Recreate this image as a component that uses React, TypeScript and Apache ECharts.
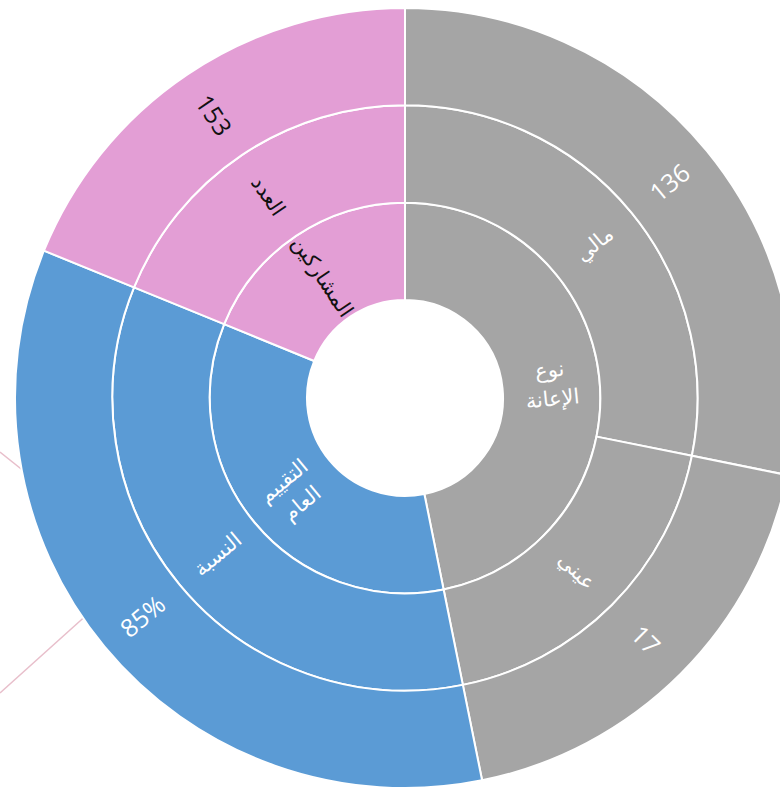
import React, { useEffect, useRef } from "react";
import * as echarts from "echarts";

// Inner ring (categories)
const innerNames = ["نوع\nالإعانة", "التقييم\nالعام", "المشاركين"];
// Middle ring names, per inner category
const middleNames = [["مالي", "عيني"], ["النسبة"], ["العدد"]];
// Outer ring labels, per middle item
const outerLabels = [["136", "17"], ["85%"], ["153"]];
// Angular share of each leaf (degrees)
const leafShares = [[101.4, 67.2], [123.6], [67.8]];
// Colours per inner category
const colors = ["#A5A5A5", "#5B9BD5", "#E39ED5"];
const textColors = ["#ffffff", "#ffffff", "#111111"];

const FONT = "'Open Sans', 'DejaVu Sans', sans-serif";

export default function App() {
  const ref = useRef<HTMLDivElement>(null);

  useEffect(() => {
    if (!ref.current) return;
    const chart = echarts.init(ref.current, undefined, { renderer: "svg" });

    const data = innerNames.map((name, i) => ({
      name,
      itemStyle: { color: colors[i] },
      label: { color: textColors[i], lineHeight: 29 },
      children: middleNames[i].map((mName, j) => ({
        name: mName,
        itemStyle: { color: colors[i] },
        label: { color: textColors[i] },
        children: [
          {
            name: outerLabels[i][j],
            value: leafShares[i][j],
            itemStyle: { color: colors[i] },
            label: { color: textColors[i], fontSize: 25 },
          },
        ],
      })),
    }));

    chart.setOption({
      animation: false,
      backgroundColor: "#ffffff",
      graphic: [
        {
          type: "line",
          z: -10,
          shape: { x1: 0, y1: 452, x2: 60, y2: 500 },
          style: { stroke: "#e8bfcb", lineWidth: 1.5 },
          silent: true,
        },
        {
          type: "line",
          z: -10,
          shape: { x1: 0, y1: 693, x2: 120, y2: 585 },
          style: { stroke: "#e8bfcb", lineWidth: 1.5 },
          silent: true,
        },
      ],
      series: [
        {
          type: "sunburst",
          center: [405, 398],
          radius: [98, 390],
          startAngle: 90,
          clockwise: true,
          sort: null,
          nodeClick: false,
          emphasis: { disabled: true },
          itemStyle: { borderColor: "#ffffff", borderWidth: 2 },
          label: {
            rotate: "radial",
            fontFamily: FONT,
            fontSize: 21,
            lineHeight: 26,
            align: "center",
          },
          data,
        },
      ],
    });

    return () => chart.dispose();
  }, []);

  return (
    <div
      ref={ref}
      style={{ position: "fixed", left: 0, top: 0, width: 780, height: 788 }}
    />
  );
}
